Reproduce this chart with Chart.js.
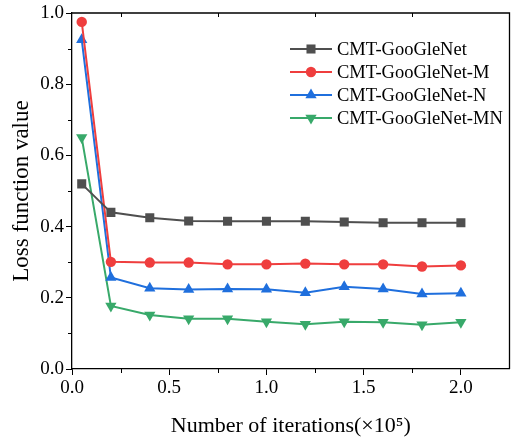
<!DOCTYPE html>
<html>
<head>
<meta charset="utf-8">
<script src="https://cdn.jsdelivr.net/npm/chart.js@4/dist/chart.umd.min.js"></script>
<style>
  html, body { margin: 0; padding: 0; background: #fff; }
</style>
</head>
<body>
<canvas id="chartLoss" width="516" height="439"></canvas>
<script>
// Datos (iteraciones en unidades de 10^5)
const iteraciones = [0.05, 0.2, 0.4, 0.6, 0.8, 1.0, 1.2, 1.4, 1.6, 1.8, 2.0];
const perdidaBase = [0.52, 0.44, 0.425, 0.416, 0.415, 0.415, 0.415, 0.413, 0.411, 0.411, 0.411];
const perdidaM    = [0.975, 0.301, 0.299, 0.299, 0.294, 0.294, 0.296, 0.294, 0.294, 0.288, 0.291];
const perdidaN    = [0.925, 0.257, 0.227, 0.223, 0.225, 0.224, 0.214, 0.231, 0.225, 0.211, 0.213];
const perdidaMN   = [0.65, 0.177, 0.152, 0.141, 0.141, 0.133, 0.126, 0.133, 0.131, 0.124, 0.131];

const nombres = ['CMT-GooGleNet', 'CMT-GooGleNet-M', 'CMT-GooGleNet-N', 'CMT-GooGleNet-MN'];
const xTicks = [0.0, 0.5, 1.0, 1.5, 2.0];
const xMinor = [0.25, 0.75, 1.25, 1.75];
const yTicks = [0.0, 0.2, 0.4, 0.6, 0.8, 1.0];
const yMinor = [0.1, 0.3, 0.5, 0.7, 0.9];

const fuente = 'Liberation Serif';

const series = [
    { datos: perdidaBase, color: '#4f4f4f', estilo: 'rect', radio: 6.4, rot: 0 },
    { datos: perdidaM,    color: '#ef3e3e', estilo: 'circle', radio: 5.2, rot: 0 },
    { datos: perdidaN,    color: '#1f6fdd', estilo: 'triangle', radio: 6.5, rot: 0 },
    { datos: perdidaMN,   color: '#38a96a', estilo: 'triangle', radio: 6.5, rot: 180 }
];

const puntos = arr => arr.map((v, i) => ({ x: iteraciones[i], y: v }));

// Dibuja un marcador como lo hace Chart.js
const dibujarMarcador = (ctx, s, x, y) => {
    ctx.save();
    ctx.fillStyle = s.color;
    ctx.beginPath();
    if (s.estilo === 'rect') {
        const h = Math.SQRT1_2 * s.radio;
        ctx.rect(x - h, y - h, 2 * h, 2 * h);
    } else if (s.estilo === 'circle') {
        ctx.arc(x, y, s.radio, 0, Math.PI * 2);
    } else {
        let a = s.rot * Math.PI / 180;
        for (let k = 0; k < 3; k++) {
            const px = x + Math.sin(a) * s.radio;
            const py = y - Math.cos(a) * s.radio;
            if (k === 0) ctx.moveTo(px, py); else ctx.lineTo(px, py);
            a += 2 * Math.PI / 3;
        }
        ctx.closePath();
    }
    ctx.fill();
    ctx.restore();
};

// Marco, ticks menores y leyenda
const marcoPlugin = {
    id: 'marco',
    afterDraw(chart) {
        const { ctx, chartArea: a, scales } = chart;
        ctx.save();
        ctx.strokeStyle = '#000';
        ctx.lineWidth = 1.3;
        ctx.beginPath();
        ctx.moveTo(a.left, a.top);
        ctx.lineTo(a.right, a.top);
        ctx.lineTo(a.right, a.bottom);
        ctx.stroke();

        ctx.lineWidth = 1;
        ctx.beginPath();
        xMinor.forEach(v => {
            const px = Math.round(scales.x.getPixelForValue(v)) + 0.5;
            ctx.moveTo(px, a.bottom);
            ctx.lineTo(px, a.bottom + 4);
            ctx.moveTo(px, a.top);
            ctx.lineTo(px, a.top + 4);
        });
        yMinor.forEach(v => {
            const py = Math.round(scales.y.getPixelForValue(v)) + 0.5;
            ctx.moveTo(a.left - 4, py);
            ctx.lineTo(a.left, py);
        });
        ctx.stroke();

        // Leyenda
        ctx.font = '18.5px "' + fuente + '"';
        ctx.textBaseline = 'middle';
        ctx.textAlign = 'left';
        series.forEach((s, i) => {
            const y = 49 + i * 23;
            ctx.strokeStyle = s.color;
            ctx.lineWidth = 2;
            ctx.beginPath();
            ctx.moveTo(290, y);
            ctx.lineTo(332, y);
            ctx.stroke();
            dibujarMarcador(ctx, s, 311, y);
            ctx.fillStyle = '#000';
            ctx.fillText(nombres[i], 337, y + 1);
        });
        ctx.restore();
    }
};

const chartLoss = new Chart(document.getElementById('chartLoss'), {
    type: 'line',
    data: {
        datasets: series.map((s, i) => ({
            label: nombres[i],
            data: puntos(s.datos),
            borderColor: s.color,
            backgroundColor: s.color,
            borderWidth: 2,
            pointStyle: s.estilo,
            pointRadius: s.radio,
            pointRotation: s.rot,
            pointBorderWidth: 0,
            tension: 0
        }))
    },
    options: {
        responsive: false,
        animation: false,
        devicePixelRatio: 1,
        layout: { padding: { left: 0, right: 4, top: 13, bottom: 0 } },
        plugins: {
            legend: { display: false },
            tooltip: { enabled: false }
        },
        scales: {
            x: {
                type: 'linear',
                min: 0,
                max: 2.25,
                afterBuildTicks: scale => { scale.ticks = xTicks.map(v => ({ value: v })); },
                afterFit: scale => {
                    scale.height = 70;
                    scale.paddingLeft = 0;
                    scale.paddingRight = 0;
                },
                ticks: {
                    color: '#000',
                    font: { family: fuente, size: 19 },
                    padding: 2,
                    maxRotation: 0,
                    callback: v => v.toFixed(1)
                },
                grid: { drawOnChartArea: false, drawTicks: true, tickLength: 6, color: '#000' },
                border: { display: true, color: '#000', width: 1.3 },
                title: {
                    display: true,
                    text: 'Number of iterations(×10⁵)',
                    color: '#000',
                    font: { family: fuente, size: 22 },
                    padding: { top: 8, bottom: 0 }
                }
            },
            y: {
                min: 0,
                max: 1,
                afterBuildTicks: scale => { scale.ticks = yTicks.map(v => ({ value: v })); },
                afterFit: scale => {
                    scale.width = 72;
                    scale.paddingTop = 0;
                    scale.paddingBottom = 0;
                },
                ticks: {
                    color: '#000',
                    font: { family: fuente, size: 19 },
                    padding: 2,
                    callback: v => v.toFixed(1)
                },
                grid: { drawOnChartArea: false, drawTicks: true, tickLength: 6, color: '#000' },
                border: { display: true, color: '#000', width: 1.3 },
                title: {
                    display: true,
                    text: 'Loss function value',
                    color: '#000',
                    font: { family: fuente, size: 23 },
                    padding: { top: 8, bottom: 0 }
                }
            }
        }
    },
    plugins: [marcoPlugin]
});
</script>
</body>
</html>
